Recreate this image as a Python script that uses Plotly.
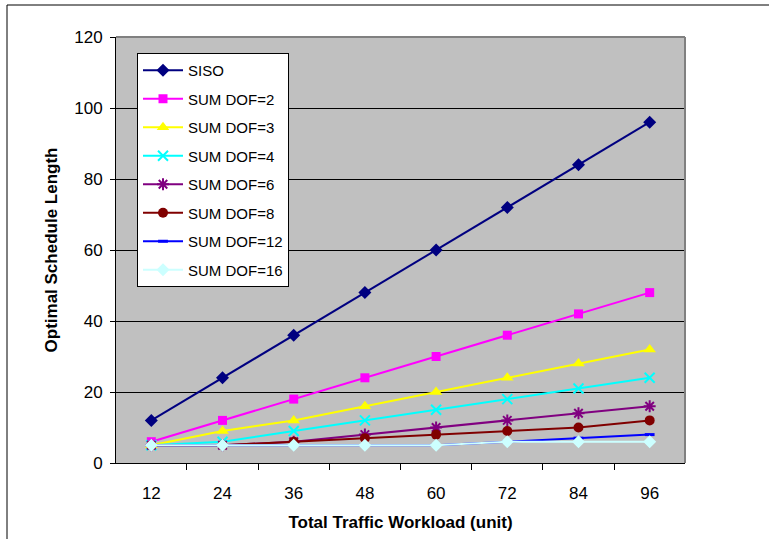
import plotly.graph_objects as go

workload = [12, 24, 36, 48, 60, 72, 84, 96]
siso = [12, 24, 36, 48, 60, 72, 84, 96]
dof2 = [6, 12, 18, 24, 30, 36, 42, 48]
dof3 = [5, 9, 12, 16, 20, 24, 28, 32]
dof4 = [5, 6, 9, 12, 15, 18, 21, 24]
dof6 = [5, 5, 6, 8, 10, 12, 14, 16]
dof8 = [5, 5, 6, 7, 8, 9, 10, 12]
dof12 = [5, 5, 5, 5, 5, 6, 7, 8]
dof16 = [5, 5, 5, 5, 5, 6, 6, 6]

series = [
    ("SISO", siso, "#000080", "diamond", 10, 0),
    ("SUM DOF=2", dof2, "#FF00FF", "square", 9, 0),
    ("SUM DOF=3", dof3, "#FFFF00", "triangle-up", 11, 0),
    ("SUM DOF=4", dof4, "#00FFFF", "x-thin-open", 10, 2),
    ("SUM DOF=6", dof6, "#800080", "asterisk-open", 10, 2),
    ("SUM DOF=8", dof8, "#800000", "circle", 10, 0),
    ("SUM DOF=12", dof12, "#0000FF", "line-ew-open", 7, 3),
    ("SUM DOF=16", dof16, "#CCFFFF", "diamond", 10, 0),
]

x_labels = [str(v) for v in workload]

fig = go.Figure()
for i, (name, vals, color, sym, size, lw) in enumerate(series):
    marker = dict(symbol=sym, size=size, color=color)
    if lw:
        marker["line"] = dict(color=color, width=lw)
    else:
        marker["line"] = dict(width=0)
    fig.add_trace(go.Scatter(
        x=x_labels, y=vals, name=name, mode="lines+markers",
        line=dict(color=color, width=2), marker=marker,
        legendgroup=f"g{i}",
    ))

L, R, T, B = 116, 685, 37, 463
W, H = 769, 539
pw, ph = R - L, B - T

def px(xp):
    return (xp - L) / pw

def py(yp):
    return 1 - (yp - T) / ph

fig.update_layout(
    width=W, height=H,
    margin=dict(l=L, r=W - R, t=T, b=H - B),
    paper_bgcolor="white", plot_bgcolor="#C0C0C0",
    font=dict(family="Liberation Sans, Arial, sans-serif", color="black"),
    showlegend=True,
    legend=dict(
        x=px(137), y=py(53), xanchor="left", yanchor="top",
        bgcolor="white", bordercolor="black", borderwidth=1,
        font=dict(size=15, color="black"),
        traceorder="grouped", tracegroupgap=6,
        itemwidth=40,
    ),
    xaxis=dict(
        type="category", tickson="boundaries",
        showline=True, linecolor="black", linewidth=1,
        ticks="outside", ticklen=6, tickcolor="black",
        showgrid=False, tickfont=dict(size=17),
        ticklabelstandoff=15,
        title=dict(text="<b>Total Traffic Workload (unit)</b>", font=dict(size=17), standoff=13),
    ),
    yaxis=dict(
        range=[0, 120], dtick=20, tick0=0,
        showline=True, linecolor="black", linewidth=1,
        ticks="outside", ticklen=5, tickcolor="black",
        showgrid=True, gridcolor="black", gridwidth=1,
        zeroline=False, tickfont=dict(size=17),
        ticklabelstandoff=4,
        title=dict(text="<b>Optimal Schedule Length</b>", font=dict(size=17), standoff=12),
    ),
    shapes=[
        dict(type="line", xref="paper", yref="paper", x0=0, x1=1, y0=1, y1=1,
             line=dict(color="#808080", width=2)),
        dict(type="line", xref="paper", yref="paper", x0=1, x1=1, y0=0, y1=1,
             line=dict(color="#808080", width=2)),
        dict(type="line", xref="paper", yref="paper", x0=px(7), x1=px(W + 5), y0=py(5), y1=py(5),
             line=dict(color="black", width=1)),
        dict(type="line", xref="paper", yref="paper", x0=px(7), x1=px(7), y0=py(5), y1=py(H + 5),
             line=dict(color="black", width=1)),
    ],
)

fig.write_html(
    "out.html",
    config={"displayModeBar": False},
    post_script="document.body.style.margin='0';document.body.style.padding='0';",
)
